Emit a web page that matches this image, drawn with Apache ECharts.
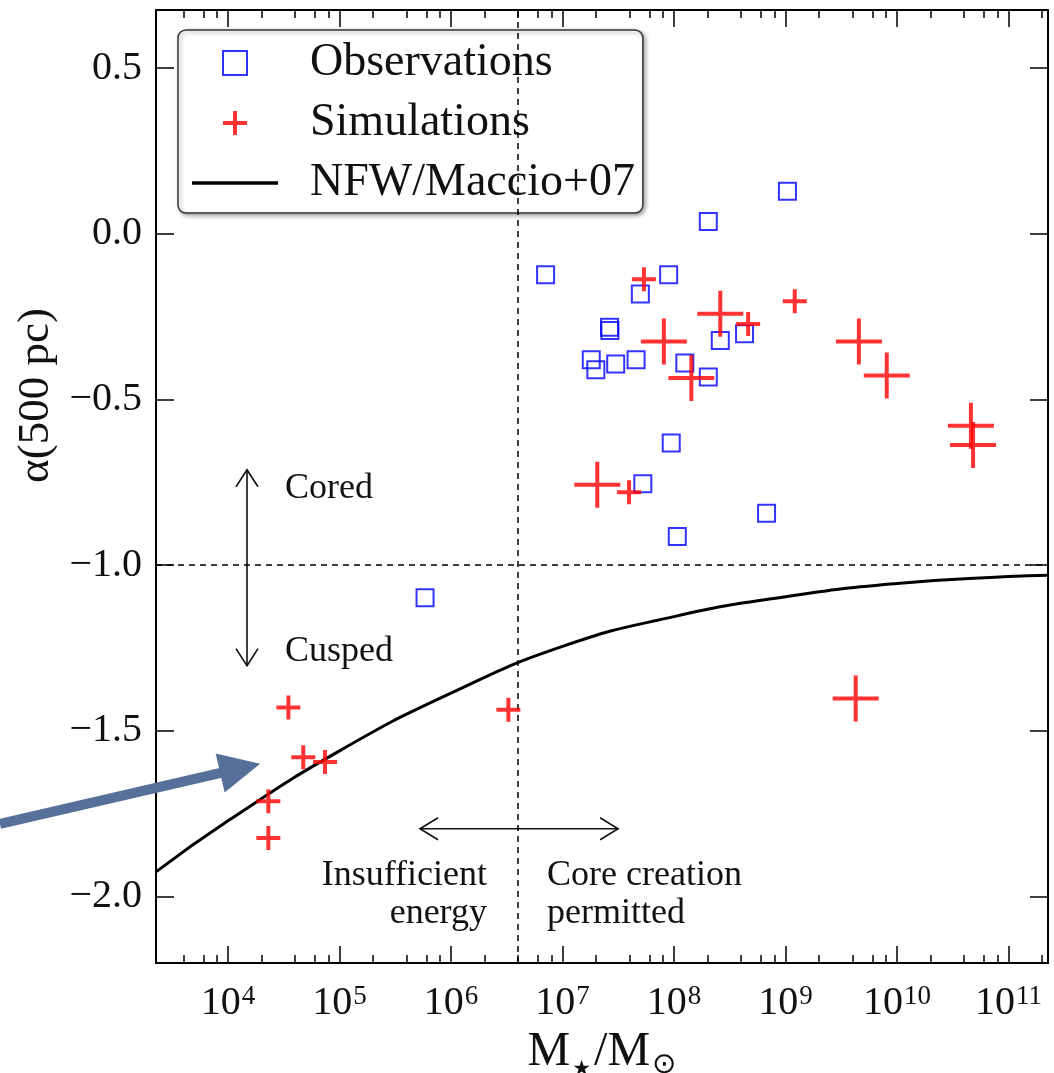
<!DOCTYPE html>
<html>
<head>
<meta charset="utf-8">
<script src="https://cdn.jsdelivr.net/npm/echarts@6/dist/echarts.min.js"></script>
<style>
  html, body { margin: 0; padding: 0; background: #fff; }
  #chart { width: 1054px; height: 1073px; }
</style>
</head>
<body>
<div id="chart"></div>
<script>
// stellar mass (M_sun) vs inner slope alpha at 500 pc
const obsMass  = [1.04e9, 2.03e8, 7.05e6, 8.95e7, 4.99e7, 2.64e7, 2.66e7, 2.60e8, 4.29e8, 1.81e7,
                  1.99e7, 3.00e7, 4.57e7, 1.25e8, 2.03e8, 9.44e7, 5.25e7, 6.76e8, 1.07e8, 5.85e5];
const obsAlpha = [0.128, 0.037, -0.124, -0.124, -0.182, -0.282, -0.292, -0.322, -0.302, -0.380,
                  -0.410, -0.393, -0.380, -0.390, -0.432, -0.631, -0.754, -0.843, -0.913, -1.098];

const simSmallMass  = [5.37e7, 1.21e9, 4.62e8, 3.95e7, 3.48e4, 4.73e4, 7.41e4, 2.30e4, 2.30e4, 3.27e6];
const simSmallAlpha = [-0.137, -0.204, -0.272, -0.780, -1.429, -1.579, -1.594, -1.712, -1.823, -1.436];

const simLargeMass  = [2.60e8, 8.11e7, 1.43e8, 4.55e9, 8.09e9, 4.60e10, 4.81e10, 2.05e7, 4.26e9];
const simLargeAlpha = [-0.241, -0.325, -0.435, -0.325, -0.428, -0.579, -0.637, -0.757, -1.402];

const nfwMass  = [2.26e3, 1e4, 1e5, 1e6, 1e7, 1e8, 1e9, 1e10, 1e11, 2.26e11];
const nfwAlpha = [-1.925, -1.771, -1.560, -1.386, -1.245, -1.155, -1.095, -1.055, -1.034, -1.030];

const xExponents = [4, 5, 6, 7, 8, 9, 10, 11];
const minorSubs = [2, 4, 6, 8];
const yTicks = [-2.0, -1.5, -1.0, -0.5, 0.0, 0.5];

const massMin = 2.26e3, massMax = 2.26e11;
const alphaMin = -2.2, alphaMax = 0.675;
const coreMass = 4.0e6;     // vertical dashed line
const coreAlpha = -1.0;     // horizontal dashed line

const FONT = '"Liberation Serif", "DejaVu Serif", serif';
const INK = '#111';

const lg = Math.log10;
const pts = (m, a) => m.map((v, i) => [lg(v), a[i]]);
const xMin = lg(massMin), xMax = lg(massMax);

const minorX = [];
for (let n = 3; n <= 11; n++) {
  minorSubs.forEach(k => {
    const v = n + lg(k);
    if (v > xMin && v < xMax) minorX.push(v);
  });
}

const smallPlus = 'path://M10,0H14V10H24V14H14V24H10V14H0V10H10Z';
const largePlus = 'path://M21,0H25V21H46V25H25V46H21V25H0V21H21Z';
const square = 'path://M0,0H20V20H0Z';

const xAxes = [
  { position: 'bottom', ticks: xExponents, len: 17, line: true, label: true },
  { position: 'bottom', ticks: minorX, len: 8 },
  { position: 'top', ticks: xExponents, len: 17, line: true },
  { position: 'top', ticks: minorX, len: 8 }
].map((a, i) => ({
  type: 'value',
  gridIndex: 0,
  position: a.position,
  min: xMin,
  max: xMax,
  axisLine: { show: !!a.line, onZero: false, lineStyle: { color: '#000', width: 2 } },
  axisTick: { show: true, inside: true, length: a.len, customValues: a.ticks,
              lineStyle: { color: '#000', width: 1.5 } },
  axisLabel: {
    show: !!a.label,
    customValues: a.ticks,
    margin: 20,
    formatter: v => '{b|10}{s|' + Math.round(v) + '}',
    rich: {
      b: { fontFamily: FONT, fontSize: 40, color: INK, lineHeight: 40 },
      s: { fontFamily: FONT, fontSize: 27, color: INK, verticalAlign: 'top', lineHeight: 36,
           padding: [0, 0, 0, 1] }
    }
  },
  splitLine: { show: false },
  name: i === 0 ? '{m|M}{star|★}{m|/M}{sun|⊙}' : '',
  nameLocation: 'middle',
  nameGap: 55,
  nameTextStyle: {
    rich: {
      m: { fontFamily: FONT, fontSize: 48, color: INK, lineHeight: 56, verticalAlign: 'middle' },
      star: { fontFamily: '"DejaVu Sans", sans-serif', fontSize: 21, color: INK, lineHeight: 14,
              verticalAlign: 'bottom', padding: [0, 3, 0, 2] },
      sun: { fontFamily: '"DejaVu Sans", sans-serif', fontSize: 29, color: INK, lineHeight: 12,
             verticalAlign: 'bottom', padding: [0, 0, 0, 2] }
    }
  }
}));

const yAxes = ['left', 'right'].map((pos, i) => ({
  type: 'value',
  gridIndex: 0,
  position: pos,
  min: alphaMin,
  max: alphaMax,
  axisLine: { show: true, onZero: false, lineStyle: { color: '#000', width: 2 } },
  axisTick: { show: true, inside: true, length: 18, customValues: yTicks,
              lineStyle: { color: '#000', width: 1.5 } },
  axisLabel: {
    show: i === 0,
    customValues: yTicks,
    margin: 14,
    fontFamily: FONT,
    fontSize: 40,
    color: INK,
    formatter: v => (v < 0 ? '\u2212' : '') + Math.abs(v).toFixed(1)
  },
  splitLine: { show: false },
  name: i === 0 ? 'α(500 pc)' : '',
  nameLocation: 'middle',
  nameRotate: 90,
  nameGap: 96,
  nameTextStyle: { fontFamily: FONT, fontSize: 45, color: INK, padding: [0, 0, 0, 182] }
}));

const chart = echarts.init(document.getElementById('chart'));

chart.setOption({
  animation: false,
  backgroundColor: '#fff',
  grid: { left: 156, right: 6, top: 10, bottom: 110, outerBoundsMode: 'none' },
  xAxis: xAxes,
  yAxis: yAxes,
  legend: {
    orient: 'vertical',
    left: 178,
    top: 30,
    padding: [10, 8, 7, 14],
    itemWidth: 86,
    itemHeight: 24,
    itemGap: 14,
    backgroundColor: '#fff',
    borderColor: '#333',
    borderWidth: 1.5,
    borderRadius: 8,
    shadowBlur: 4,
    shadowColor: 'rgba(0,0,0,0.35)',
    shadowOffsetX: 2,
    shadowOffsetY: 2,
    textStyle: { fontFamily: FONT, fontSize: 46, color: INK, lineHeight: 46, padding: [0, 0, 0, 27] },
    data: [
      'Observations',
      'Simulations',
      { name: 'NFW/Maccio+07', icon: 'path://M0,0H86V3.5H0Z' }
    ]
  },
  series: [
    {
      name: 'NFW/Maccio+07',
      type: 'line',
      data: pts(nfwMass, nfwAlpha),
      smooth: 0.5,
      symbol: 'none',
      showSymbol: false,
      lineStyle: { color: '#000', width: 3 },
      itemStyle: { color: '#000' },
      z: 3,
      markLine: {
        silent: true,
        symbol: 'none',
        label: { show: false },
        lineStyle: { color: '#000', width: 1.5, type: [6, 5] },
        data: [{ yAxis: coreAlpha }, { xAxis: lg(coreMass) }]
      }
    },
    {
      name: 'Observations',
      type: 'scatter',
      data: pts(obsMass, obsAlpha),
      symbol: square,
      symbolSize: 17,
      itemStyle: { color: 'rgba(0,0,0,0)', borderColor: '#0000ff', borderWidth: 2 },
      z: 4
    },
    {
      name: 'Simulations',
      type: 'scatter',
      data: pts(simSmallMass, simSmallAlpha),
      symbol: smallPlus,
      symbolSize: 24,
      itemStyle: { color: '#ff0000' },
      z: 5
    },
    {
      name: 'Simulations',
      type: 'scatter',
      data: pts(simLargeMass, simLargeAlpha),
      symbol: largePlus,
      symbolSize: 46,
      itemStyle: { color: '#ff0000' },
      z: 5
    }
  ]
});

// annotations placed in data space, drawn as graphics
const px = (m, a) => chart.convertToPixel({ xAxisIndex: 0, yAxisIndex: 0 }, [lg(m), a]);

const vTop = px(1.48e4, -0.712), vBot = px(1.48e4, -1.303);
const hL = px(5.27e5, -1.795), hR = px(3.15e7, -1.795);
const tip = px(1.94e4, -1.599), tail = px(90, -1.78);

const thin = { stroke: '#111', lineWidth: 1.6, fill: null };
const lineEl = (a, b, style) => ({ type: 'polyline', shape: { points: [a, b] }, style });
const chevron = (p, dx1, dy1, dx2, dy2) => ({
  type: 'polyline',
  shape: { points: [[p[0] + dx1, p[1] + dy1], p, [p[0] + dx2, p[1] + dy2]] },
  style: thin
});

const txt = (m, a, text, align) => {
  const p = px(m, a);
  return {
    type: 'text',
    x: p[0], y: p[1],
    style: { text, font: '36px ' + FONT, fill: INK, textAlign: align, textVerticalAlign: 'middle',
             align, verticalAlign: 'middle' }
  };
};

// big pointer arrow
const dx = tip[0] - tail[0], dy = tip[1] - tail[1];
const len = Math.hypot(dx, dy), ux = dx / len, uy = dy / len;
const headLen = 41, headHalf = 20;
const base = [tip[0] - ux * headLen, tip[1] - uy * headLen];
const arrowColor = '#56709a';

chart.setOption({
  graphic: [
    lineEl(vTop, vBot, thin),
    chevron(vTop, -11, 17, 11, 17),
    chevron(vBot, -11, -17, 11, -17),
    lineEl(hL, hR, thin),
    chevron(hL, 18, -11, 18, 11),
    chevron(hR, -18, -11, -18, 11),
    txt(3.24e4, -0.769, 'Cored', 'left'),
    txt(3.24e4, -1.261, 'Cusped', 'left'),
    txt(2.1e6, -1.937, 'Insufficient', 'right'),
    txt(2.1e6, -2.051, 'energy', 'right'),
    txt(7.26e6, -1.937, 'Core creation', 'left'),
    txt(7.26e6, -2.051, 'permitted', 'left'),
    {
      type: 'polyline', z: 100,
      shape: { points: [tail, [base[0] + ux * 4, base[1] + uy * 4]] },
      style: { stroke: arrowColor, lineWidth: 10, fill: null }
    },
    {
      type: 'polygon', z: 100,
      shape: { points: [tip,
        [base[0] - uy * headHalf, base[1] + ux * headHalf],
        [base[0] + uy * headHalf, base[1] - ux * headHalf]] },
      style: { fill: arrowColor }
    }
  ]
});
</script>
</body>
</html>
